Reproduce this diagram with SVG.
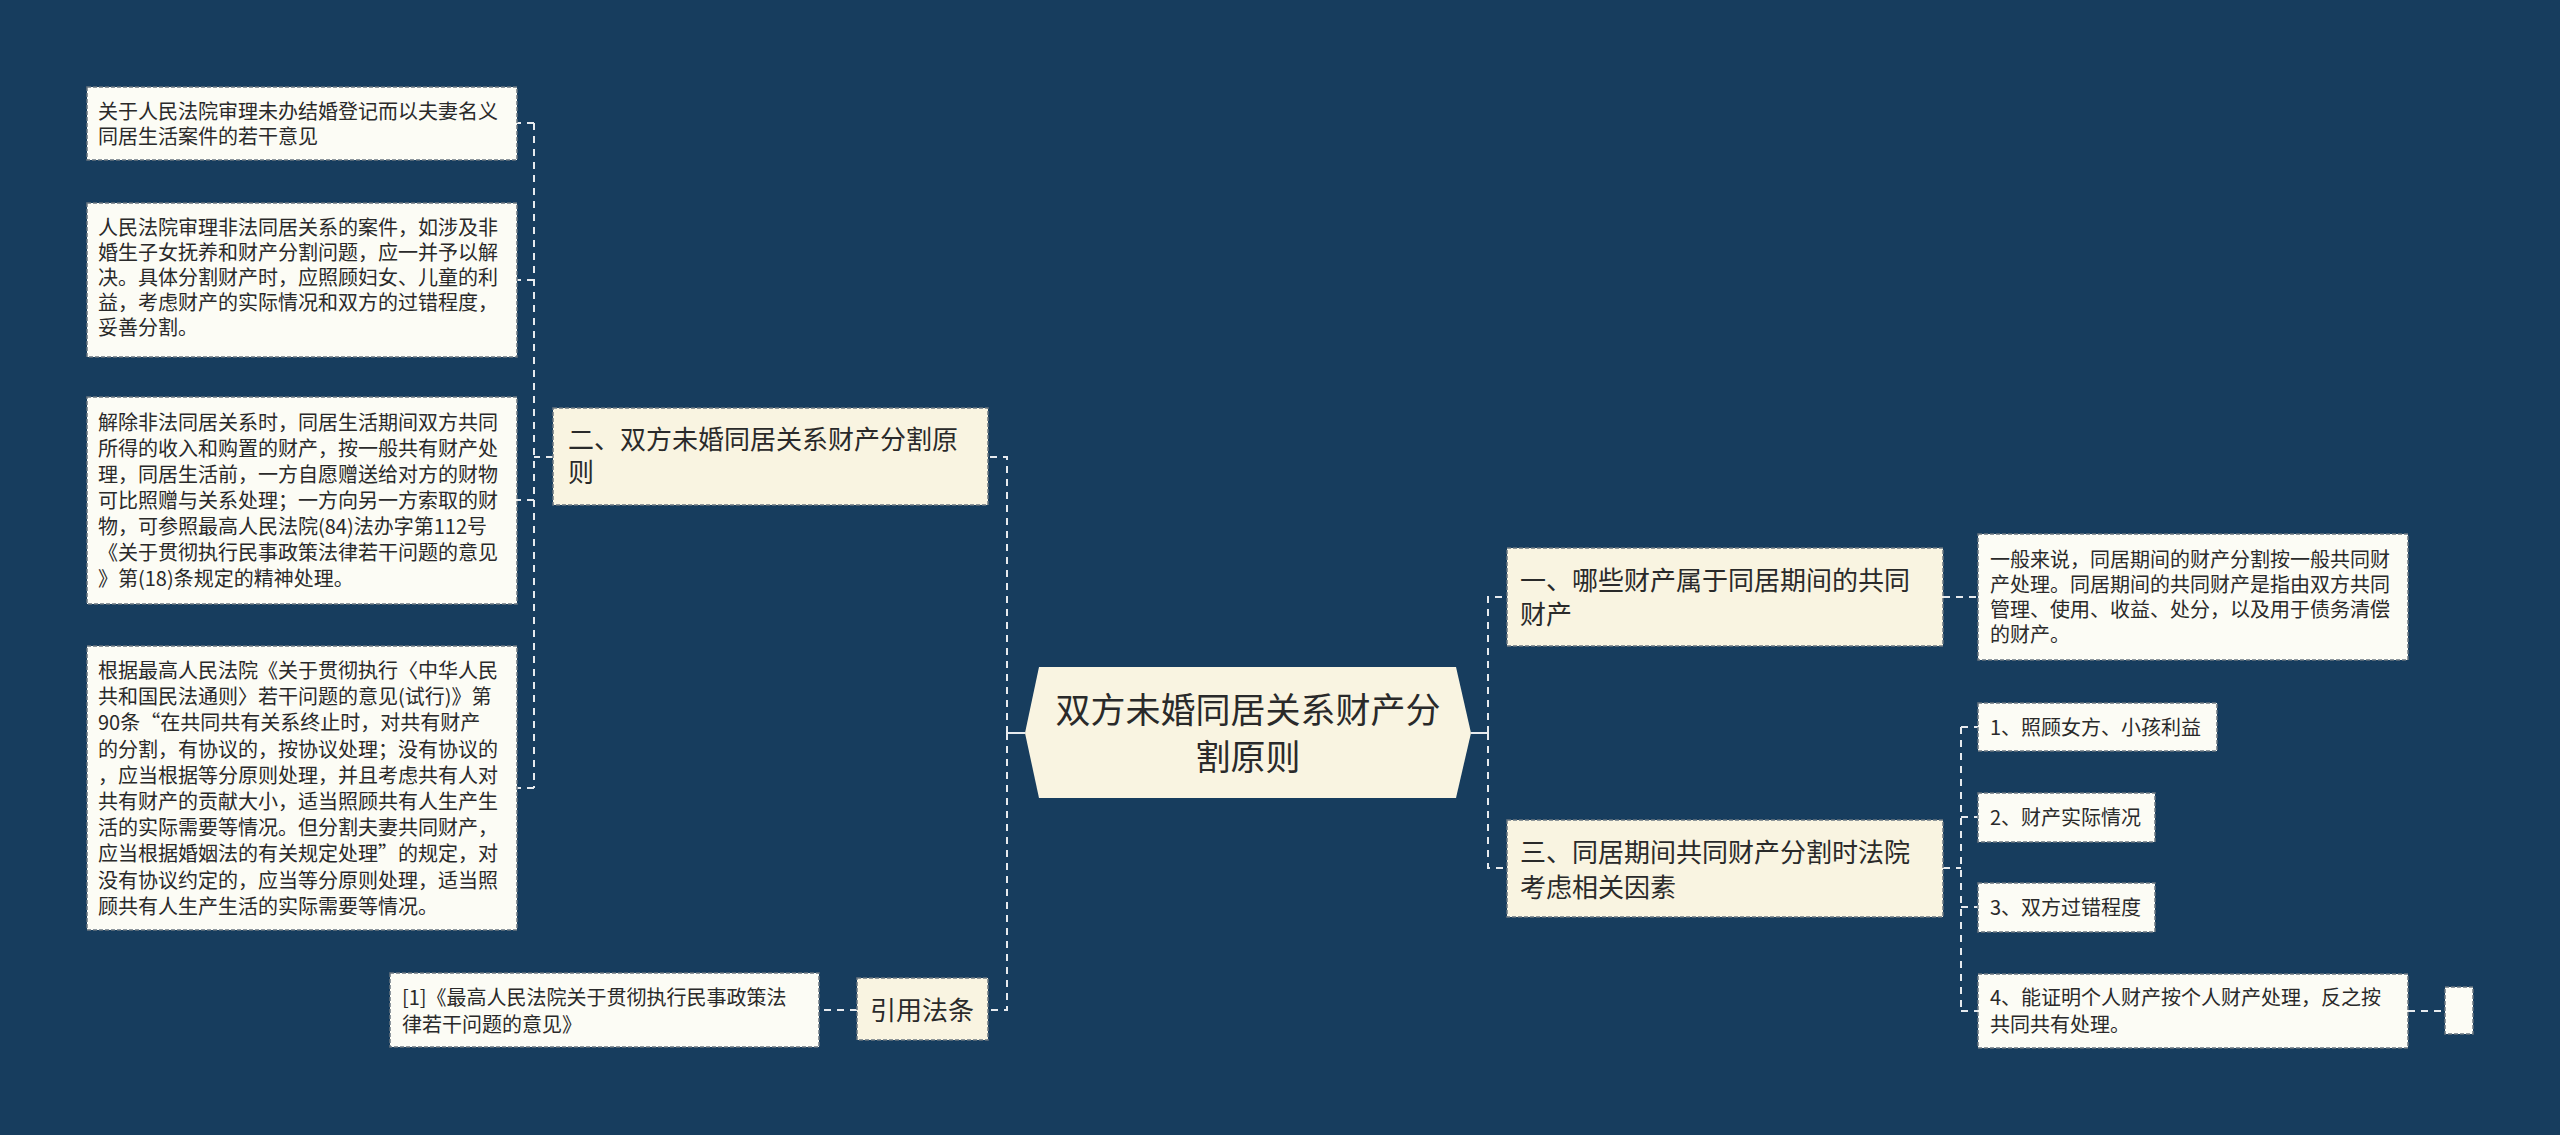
<svg xmlns="http://www.w3.org/2000/svg" width="2560" height="1135" viewBox="0 0 2560 1135">
<style>
text{font-family:"Noto Sans CJK SC","Noto Sans",sans-serif;fill:#2a2a2a}
.leaf{fill:#fcfcf5;stroke:#6a7580;stroke-width:1.5;stroke-dasharray:4 2}
.mid{fill:#f9f4e1;stroke:#6a7580;stroke-width:1.5;stroke-dasharray:4 2}
.t20{font-size:20px}
.t26{font-size:26px}
.t35{font-size:35px}
.con{fill:none;stroke:#e6eaee;stroke-width:2;stroke-dasharray:7 6}
.solid{fill:none;stroke:#e6eaee;stroke-width:2}
</style>
<rect x="0" y="0" width="2560" height="1135" fill="#173d5e"/>
<g id="connectors">
<path class="solid" d="M1025,733 H1007"/>
<path class="con" d="M1007,733 V457 H988"/>
<path class="con" d="M1007,733 V1010 H988"/>
<path class="con" d="M553,457 H534"/>
<path class="con" d="M534,123 V788"/>
<path class="con" d="M534,123 H517"/>
<path class="con" d="M534,280 H517"/>
<path class="con" d="M534,500 H517"/>
<path class="con" d="M534,788 H517"/>
<path class="con" d="M857,1010 H819"/>
<path class="solid" d="M1471,733 H1488"/>
<path class="con" d="M1488,733 V597 H1507"/>
<path class="con" d="M1488,733 V868 H1507"/>
<path class="con" d="M1943,597 H1978"/>
<path class="con" d="M1943,868 H1961"/>
<path class="con" d="M1961,727 V1011"/>
<path class="con" d="M1961,727 H1978"/>
<path class="con" d="M1961,817 H1978"/>
<path class="con" d="M1961,907 H1978"/>
<path class="con" d="M1961,1011 H1978"/>
<path class="con" d="M2408,1011 H2445"/>
</g>
<g id="root">
<polygon points="1025,733 1039,667 1456,667 1471,733 1456,798 1039,798" fill="#f9f4e1"/>
<text class="t35" x="1248" y="723" text-anchor="middle">双方未婚同居关系财产分</text>
<text class="t35" x="1248" y="770" text-anchor="middle">割原则</text>
</g>
<g id="n2">
<rect class="mid" x="553" y="408" width="435" height="97"/>
<text class="t26" x="568" y="449">二、双方未婚同居关系财产分割原</text>
<text class="t26" x="568" y="482">则</text>
</g>
<g id="n2a">
<rect class="leaf" x="87" y="87" width="430" height="73"/>
<text class="t20" x="98" y="119">关于人民法院审理未办结婚登记而以夫妻名义</text>
<text class="t20" x="98" y="144">同居生活案件的若干意见</text>
</g>
<g id="n2b">
<rect class="leaf" x="87" y="203" width="430" height="154"/>
<text class="t20" x="98" y="235">人民法院审理非法同居关系的案件，如涉及非</text>
<text class="t20" x="98" y="260">婚生子女抚养和财产分割问题，应一并予以解</text>
<text class="t20" x="98" y="285">决。具体分割财产时，应照顾妇女、儿童的利</text>
<text class="t20" x="98" y="310">益，考虑财产的实际情况和双方的过错程度，</text>
<text class="t20" x="98" y="335">妥善分割。</text>
</g>
<g id="n2c">
<rect class="leaf" x="87" y="397" width="430" height="207"/>
<text class="t20" x="98" y="430">解除非法同居关系时，同居生活期间双方共同</text>
<text class="t20" x="98" y="456">所得的收入和购置的财产，按一般共有财产处</text>
<text class="t20" x="98" y="482">理，同居生活前，一方自愿赠送给对方的财物</text>
<text class="t20" x="98" y="508">可比照赠与关系处理；一方向另一方索取的财</text>
<text class="t20" x="98" y="534">物，可参照最高人民法院(84)法办字第112号</text>
<text class="t20" x="98" y="560">《关于贯彻执行民事政策法律若干问题的意见</text>
<text class="t20" x="98" y="586">》第(18)条规定的精神处理。</text>
</g>
<g id="n2d">
<rect class="leaf" x="87" y="646" width="430" height="284"/>
<text class="t20" x="98" y="678">根据最高人民法院《关于贯彻执行〈中华人民</text>
<text class="t20" x="98" y="704">共和国民法通则〉若干问题的意见(试行)》第</text>
<text class="t20" x="98" y="730">90条“在共同共有关系终止时，对共有财产</text>
<text class="t20" x="98" y="757">的分割，有协议的，按协议处理；没有协议的</text>
<text class="t20" x="98" y="783">，应当根据等分原则处理，并且考虑共有人对</text>
<text class="t20" x="98" y="809">共有财产的贡献大小，适当照顾共有人生产生</text>
<text class="t20" x="98" y="835">活的实际需要等情况。但分割夫妻共同财产，</text>
<text class="t20" x="98" y="861">应当根据婚姻法的有关规定处理”的规定，对</text>
<text class="t20" x="98" y="888">没有协议约定的，应当等分原则处理，适当照</text>
<text class="t20" x="98" y="914">顾共有人生产生活的实际需要等情况。</text>
</g>
<g id="ref">
<rect class="mid" x="857" y="978" width="131" height="62"/>
<text class="t26" x="870" y="1020">引用法条</text>
</g>
<g id="ref1">
<rect class="leaf" x="390" y="973" width="429" height="74"/>
<text class="t20" x="402" y="1005">[1]《最高人民法院关于贯彻执行民事政策法</text>
<text class="t20" x="402" y="1032">律若干问题的意见》</text>
</g>
<g id="n1">
<rect class="mid" x="1507" y="548" width="436" height="98"/>
<text class="t26" x="1520" y="590">一、哪些财产属于同居期间的共同</text>
<text class="t26" x="1520" y="624">财产</text>
</g>
<g id="n1a">
<rect class="leaf" x="1978" y="534" width="430" height="126"/>
<text class="t20" x="1990" y="567">一般来说，同居期间的财产分割按一般共同财</text>
<text class="t20" x="1990" y="592">产处理。同居期间的共同财产是指由双方共同</text>
<text class="t20" x="1990" y="617">管理、使用、收益、处分，以及用于债务清偿</text>
<text class="t20" x="1990" y="642">的财产。</text>
</g>
<g id="n3">
<rect class="mid" x="1507" y="820" width="436" height="97"/>
<text class="t26" x="1520" y="862">三、同居期间共同财产分割时法院</text>
<text class="t26" x="1520" y="897">考虑相关因素</text>
</g>
<g id="n3a">
<rect class="leaf" x="1978" y="703" width="239" height="48"/>
<text class="t20" x="1990" y="735">1、照顾女方、小孩利益</text>
</g>
<g id="n3b">
<rect class="leaf" x="1978" y="793" width="177" height="49"/>
<text class="t20" x="1990" y="825">2、财产实际情况</text>
</g>
<g id="n3c">
<rect class="leaf" x="1978" y="883" width="177" height="49"/>
<text class="t20" x="1990" y="915">3、双方过错程度</text>
</g>
<g id="n3d">
<rect class="leaf" x="1978" y="974" width="430" height="74"/>
<text class="t20" x="1990" y="1005">4、能证明个人财产按个人财产处理，反之按</text>
<text class="t20" x="1990" y="1032">共同共有处理。</text>
</g>
<g id="n3d1">
<rect class="leaf" x="2445" y="987" width="28" height="47"/>
</g>
</svg>
